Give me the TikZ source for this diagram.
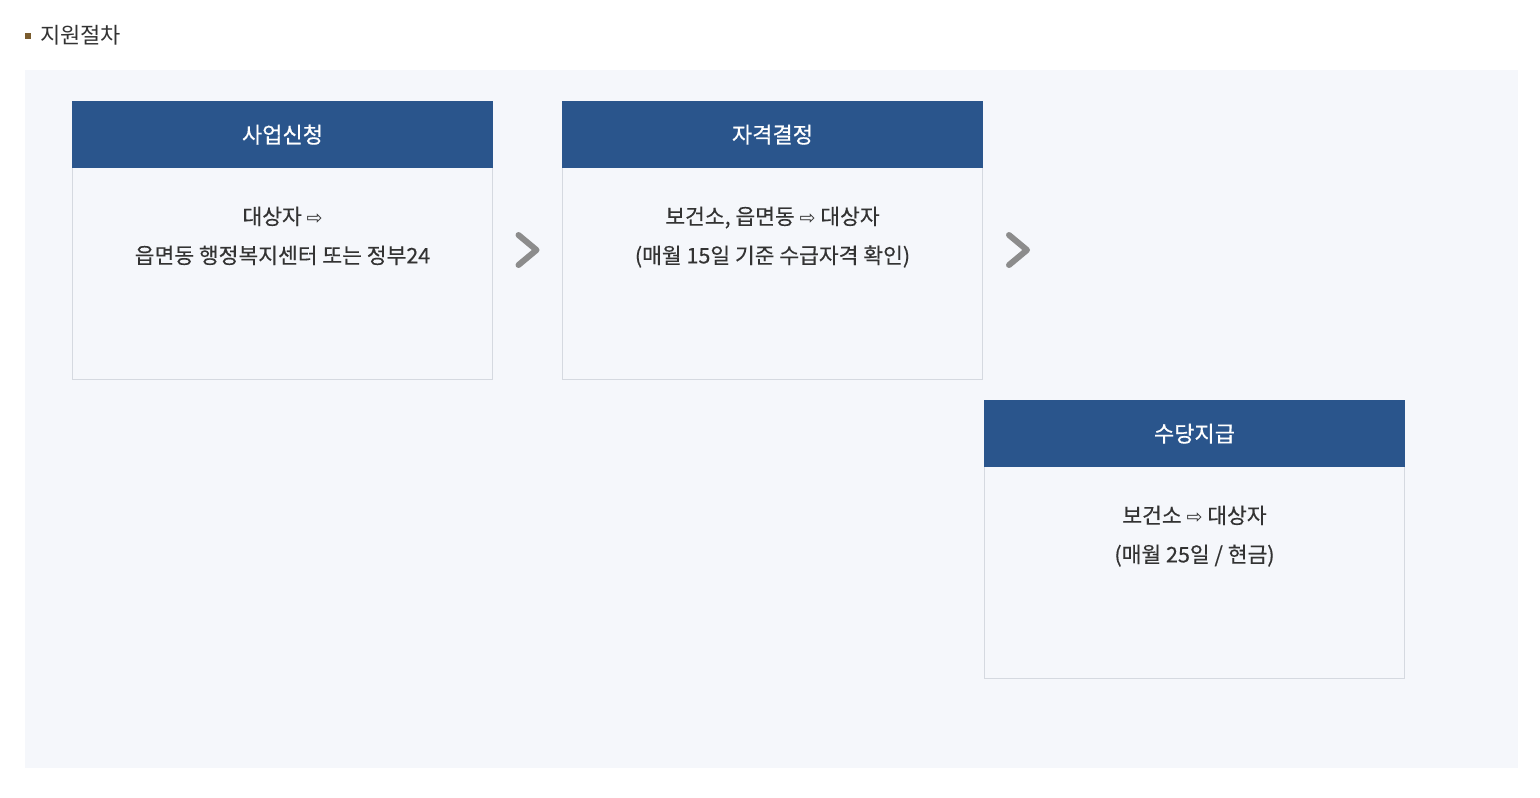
\documentclass[tikz,border=0pt]{standalone}
\usepackage{fontspec}
\setmainfont{Noto Sans CJK KR}[FakeBold=0.35]
\newfontfamily\tetefont{Noto Sans CJK KR}[FakeBold=0.7]
\newfontfamily\titrefont{Noto Sans CJK KR}
\newfontfamily\symfont{DejaVu Sans}
\usetikzlibrary{positioning,calc}
\definecolor{fondgris}{HTML}{F5F7FB}
\definecolor{bleutete}{HTML}{2A558C}
\definecolor{bordure}{HTML}{D5D9E0}
\definecolor{chevron}{HTML}{8C8C8C}
\definecolor{texte}{HTML}{333333}
\definecolor{puce}{HTML}{7A5C2E}
\newcommand{\fleche}{{\symfont\fontsize{19pt}{19pt}\selectfont ⇨}}
\tikzset{
	boite/.style	= {draw=bordure, fill=fondgris, line width=1pt, minimum width=420pt, minimum height=278pt, anchor=north west, inner sep=0pt},
	tete/.style		= {fill=bleutete, text=white, minimum width=421pt, minimum height=67pt, anchor=north, inner sep=0pt, font=\tetefont\fontsize{22pt}{22pt}\selectfont},
	corps/.style	= {text=texte, align=center, inner sep=0pt, font=\fontsize{21.5pt}{39pt}\selectfont},
	fleur/.style	= {draw=chevron, line width=6pt, line cap=round, line join=round},
}
\begin{document}
\begin{tikzpicture}[x=1pt, y=-1pt]
	% Cadre
	\useasboundingbox	(0,0)	rectangle	(1540,798);
	\fill [white]		(0,0)	rectangle	(1540,798);
	% Fond
	\fill [fondgris]	(25,70)	rectangle	(1518,768);
	% Titre
	\fill [puce]		(25,33)	rectangle	(31,39);
	\node [anchor=west, text=texte, inner sep=0pt, font=\titrefont\fontsize{22pt}{22pt}\selectfont] (titre) at (40,35) {지원절차};
	% Boites
	\node [boite] (b1) at (72,101)	{};
	\node [boite] (b2) at (562,101)	{};
	\node [boite] (b3) at (984,400)	{};
	% Entetes
	\node [tete] (h1) at (b1.north) {사업신청};
	\node [tete] (h2) at (b2.north) {자격결정};
	\node [tete] (h3) at (b3.north) {수당지급};
	% Textes
	\node [corps, below=38pt of h1] (t1) {대상자 \fleche\\읍면동 행정복지센터 또는 정부24};
	\node [corps, below=38pt of h2] (t2) {보건소, 읍면동 \fleche{} 대상자\\(매월 15일 기준 수급자격 확인)};
	\node [corps, below=38pt of h3] (t3) {보건소 \fleche{} 대상자\\(매월 25일 / 현금)};
	% Chevrons
	\coordinate (c1) at ($(b1.north east)!0.5!(b2.north west) + (0,149)$);
	\coordinate (c2) at ($(b2.north east) + (35,149)$);
	\foreach \c in {c1,c2}
		\draw [fleur] ($(\c) + (-9,-15)$) -- ($(\c) + (9,0)$) -- ($(\c) + (-9,15)$);
\end{tikzpicture}
\end{document}
